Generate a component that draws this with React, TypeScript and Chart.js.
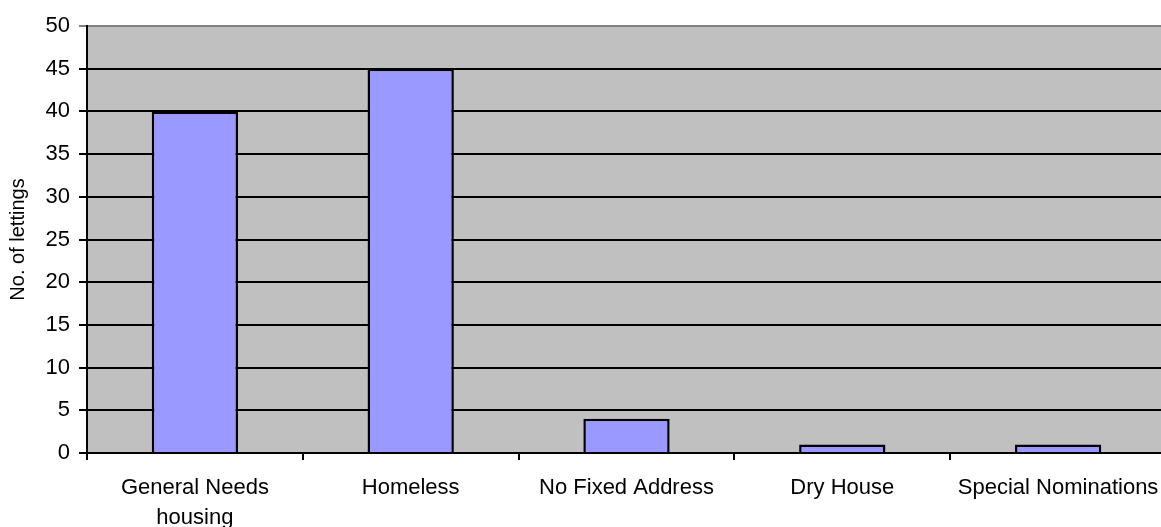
import React, { useEffect, useRef } from "react";
import { Chart, registerables } from "chart.js";

Chart.register(...registerables);

const categories: (string | string[])[] = [
  ["General Needs", "housing"],
  "Homeless",
  "No Fixed Address",
  "Dry House",
  "Special Nominations",
];
const lettings: number[] = [40, 45, 4, 1, 1];
const yTitle = "No. of lettings";

const plotBg = {
  id: "plotBg",
  beforeDraw(chart: any) {
    const { ctx, chartArea } = chart;
    ctx.save();
    ctx.fillStyle = "#C0C0C0";
    ctx.fillRect(chartArea.left, chartArea.top, chartArea.right - chartArea.left, chartArea.bottom - chartArea.top);
    ctx.restore();
  },
};

export default function App() {
  const ref = useRef<HTMLCanvasElement>(null);
  useEffect(() => {
    if (!ref.current) return;
    const family = "'Liberation Sans', Arial, sans-serif";
    const font = { family, size: 22, lineHeight: 1.36 };
    const chart = new Chart(ref.current, {
      type: "bar",
      data: {
        labels: categories,
        datasets: [
          {
            data: lettings,
            backgroundColor: "#9999FF",
            borderColor: "#000000",
            borderWidth: 2.5,
            barPercentage: 0.4,
            categoryPercentage: 1,
          },
        ],
      },
      options: {
        animation: false,
        responsive: false,
        maintainAspectRatio: false,
        layout: { padding: { top: 26, right: 14, bottom: 0, left: 0 } },
        plugins: { legend: { display: false }, tooltip: { enabled: false } },
        scales: {
          x: {
            afterFit: (s: any) => {
              s.height = 74;
            },
            grid: {
              offset: true,
              drawOnChartArea: false,
              drawTicks: true,
              tickLength: 7,
              color: "#000",
              lineWidth: 2,
            },
            border: { color: "#000", width: 2 },
            ticks: {
              color: "#000",
              font,
              padding: 13,
              maxRotation: 0,
              autoSkip: false,
            },
          },
          y: {
            min: 0,
            max: 50,
            afterFit: (s: any) => {
              s.width = 87;
            },
            grid: {
              color: (c: any) => (c.tick && c.tick.value === 50 ? "#808080" : "#000"),
              lineWidth: 2,
              drawTicks: true,
              tickLength: 8,
            },
            border: { color: "#000", width: 2 },
            ticks: { stepSize: 5, color: "#000", font: { family, size: 22 }, padding: 9 },
            title: {
              display: true,
              text: yTitle,
              color: "#000",
              font: { family, size: 20 },
              padding: { top: 6, bottom: 0 },
            },
          },
        },
      },
      plugins: [plotBg],
    });
    return () => chart.destroy();
  }, []);
  return (
    <div style={{ position: "fixed", left: 0, top: 0, width: 1161, height: 527, overflow: "hidden", background: "#fff" }}>
      <canvas ref={ref} width={1180} height={527} style={{ width: 1180, height: 527, display: "block" }} />
    </div>
  );
}
